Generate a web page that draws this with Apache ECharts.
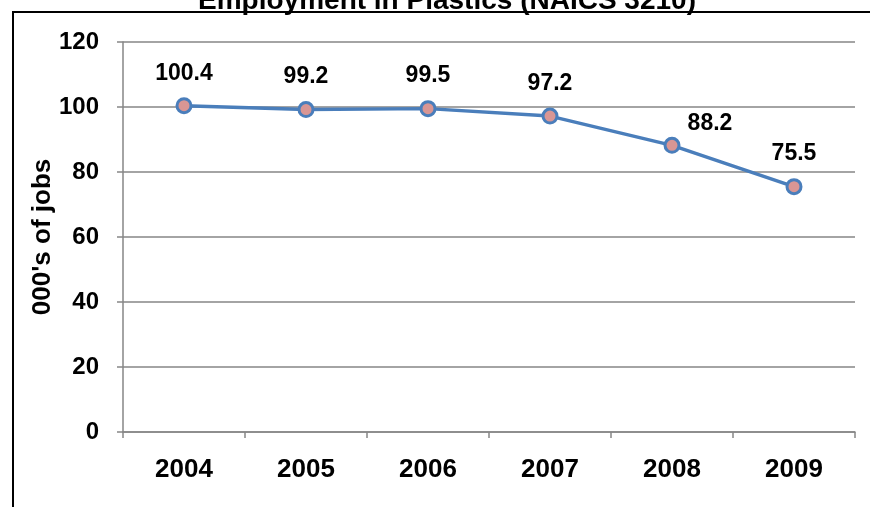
<!DOCTYPE html>
<html>
<head>
<meta charset="utf-8">
<script src="https://cdn.jsdelivr.net/npm/echarts@6/dist/echarts.min.js"></script>
<style>html,body{margin:0;padding:0;background:#fff}#c{width:870px;height:507px}</style>
</head>
<body>
<div id="c"></div>
<script>
var titleText = "Employment in Plastics (NAICS 3210)";
var yAxisName = "000's of jobs";
var years = ["2004", "2005", "2006", "2007", "2008", "2009"];
var jobs = [100.4, 99.2, 99.5, 97.2, 88.2, 75.5];
var labelOffsets = [[0, 0], [0, 0], [0, 0], [0, 0], [38, 11], [0, 0]];

var FONT = "Liberation Sans, Arial, sans-serif";
var chart = echarts.init(document.getElementById('c'), null, {renderer: 'canvas'});
chart.setOption({
  backgroundColor: '#fff',
  animation: false,
  graphic: [
    {type: 'rect', shape: {x: 13, y: 12, width: 900, height: 600}, style: {fill: 'none', stroke: '#000', lineWidth: 2}, z: 1},
    {type: 'text', x: 447, y: 15.5, style: {text: titleText, font: 'bold 28px ' + FONT, fill: '#000', textAlign: 'center', textVerticalAlign: 'bottom'}, z: 2}
  ],
  grid: {left: 123, top: 42, right: 15, bottom: 75, containLabel: false},
  xAxis: {
    type: 'category',
    data: years,
    boundaryGap: true,
    axisLine: {lineStyle: {color: '#868686', width: 1.5}},
    axisTick: {show: true, length: 6, interval: 0, lineStyle: {color: '#868686', width: 1.5}},
    axisLabel: {margin: 25, fontSize: 26, fontWeight: 'bold', color: '#000', fontFamily: FONT}
  },
  yAxis: {
    type: 'value',
    min: 0, max: 120, interval: 20,
    name: yAxisName,
    nameLocation: 'middle',
    nameGap: 67,
    nameMoveOverlap: false,
    nameTextStyle: {fontSize: 26, fontWeight: 'bold', color: '#000', fontFamily: FONT},
    axisLine: {show: true, lineStyle: {color: '#868686', width: 1.5}},
    axisTick: {show: true, length: 6, lineStyle: {color: '#868686', width: 1.5}},
    axisLabel: {margin: 24, fontSize: 24, fontWeight: 'bold', color: '#000', fontFamily: FONT},
    splitLine: {show: true, lineStyle: {color: '#868686', width: 1.5}}
  },
  series: [{
    type: 'line',
    data: jobs.map(function (v, i) {
      return {value: v, label: {offset: labelOffsets[i]}};
    }),
    symbol: 'circle',
    symbolSize: 14,
    lineStyle: {color: '#4A7EBB', width: 3.5},
    itemStyle: {color: '#D99694', borderColor: '#4A7EBB', borderWidth: 3},
    label: {show: true, position: 'top', distance: 12.5, fontSize: 23, fontWeight: 'bold', color: '#000', fontFamily: FONT},
    z: 5
  }]
});
</script>
</body>
</html>
